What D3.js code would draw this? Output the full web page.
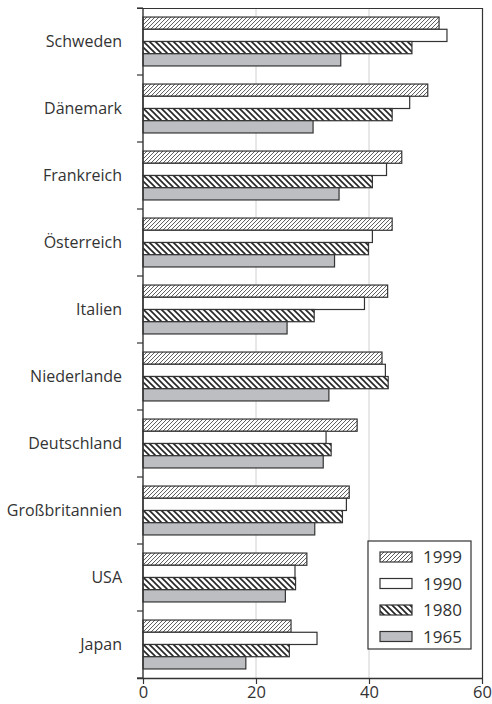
<!DOCTYPE html>
<html>
<head>
<meta charset="utf-8">
<script src="https://cdn.jsdelivr.net/npm/d3@7"></script>
<style>
  body { margin: 0; background: #fff; overflow: hidden; }
  text { font-family: "Open Sans", sans-serif; fill: #333; }
</style>
</head>
<body>
<div id="canvas" class="canvas" style="width:492px;height:704px;"></div>
<script>
// --- data
var countries = ["Schweden", "Dänemark", "Frankreich", "Österreich", "Italien",
                 "Niederlande", "Deutschland", "Großbritannien", "USA", "Japan"];
var years = ["1999", "1990", "1980", "1965"];
var v1999 = [52.4, 50.4, 45.8, 44.1, 43.3, 42.3, 37.9, 36.5, 29.0, 26.2];
var v1990 = [53.8, 47.2, 43.1, 40.6, 39.2, 42.9, 32.4, 36.0, 26.9, 30.8];
var v1980 = [47.6, 44.1, 40.6, 39.9, 30.3, 43.4, 33.3, 35.3, 27.0, 25.9];
var v1965 = [35.0, 30.1, 34.7, 33.9, 25.5, 32.9, 31.9, 30.4, 25.2, 18.2];
var xTicks = [0, 20, 40, 60];

var series = {"1999": v1999, "1990": v1990, "1980": v1980, "1965": v1965};

// --- margin convention
var M = {top: 8, right: 10, bottom: 26, left: 143};
var outerWidth = 492, outerHeight = 704;
var w = outerWidth - M.left - M.right,
    h = outerHeight - M.top - M.bottom;

var svg = d3.select('.canvas').append('svg')
  .attr('width', outerWidth)
  .attr('height', outerHeight)
  .style('display', 'block');

// --- patterns
var defs = svg.append('defs');
var p99 = defs.append('pattern')
  .attr('id', 'hatch99').attr('patternUnits', 'userSpaceOnUse')
  .attr('width', 4).attr('height', 4);
p99.append('rect').attr('width', 4).attr('height', 4).attr('fill', '#fff');
p99.append('path').attr('d', 'M-1,1 L1,-1 M0,4 L4,0 M3,5 L5,3')
  .attr('stroke', '#5a5a5a').attr('stroke-width', 1);

var p80 = defs.append('pattern')
  .attr('id', 'hatch80').attr('patternUnits', 'userSpaceOnUse')
  .attr('width', 6).attr('height', 6);
p80.append('rect').attr('width', 6).attr('height', 6).attr('fill', '#fff');
p80.append('path').attr('d', 'M-1,5 L1,7 M0,0 L6,6 M5,-1 L7,1')
  .attr('stroke', '#222').attr('stroke-width', 1.6);

var fills = {"1999": "url(#hatch99)", "1990": "#fff", "1980": "url(#hatch80)", "1965": "#bdbec2"};

var plot = svg.append('g')
  .attr('transform', 'translate(' + M.left + ',' + M.top + ')');

// --- scales
var x = d3.scaleLinear().domain([0, 60]).range([0, w]);
var y = d3.scaleBand().domain(countries).range([0, h]).paddingInner(0.27).paddingOuter(0.135);
var y2 = d3.scaleBand().domain(years).range([0, y.bandwidth()]);

// --- grid
plot.selectAll('.grid').data([20, 40]).enter().append('line')
  .attr('x1', function(d){ return x(d); }).attr('x2', function(d){ return x(d); })
  .attr('y1', 0).attr('y2', h)
  .attr('stroke', '#d0d0d0').attr('stroke-width', 1);

// --- frame (top and right)
plot.append('path')
  .attr('d', 'M' + (-6) + ',0.5 H' + (x(60) + 0.5) + ' V' + h)
  .attr('fill', 'none').attr('stroke', '#333').attr('stroke-width', 1.2);

// --- bars
var groups = plot.selectAll('.country').data(countries).enter().append('g')
  .attr('transform', function(d){ return 'translate(0,' + y(d) + ')'; });

years.forEach(function(yr){
  groups.append('rect')
    .attr('x', 0)
    .attr('y', y2(yr))
    .attr('width', function(d, i){ return x(series[yr][i]); })
    .attr('height', y2.bandwidth())
    .attr('fill', fills[yr])
    .attr('stroke', '#333')
    .attr('stroke-width', 1.2);
});

// --- y axis: line with ticks at category boundaries
var bounds = countries.map(function(d){ return y(d) - y.step() * y.paddingInner() / 2; });
bounds.push(h);
plot.append('line').attr('x1', 0).attr('x2', 0).attr('y1', 0).attr('y2', h)
  .attr('stroke', '#333').attr('stroke-width', 1.4);
plot.selectAll('.ytick').data(bounds).enter().append('line')
  .attr('x1', -6).attr('x2', 0)
  .attr('y1', function(d){ return d; }).attr('y2', function(d){ return d; })
  .attr('stroke', '#333').attr('stroke-width', 1.2);

plot.selectAll('.ylab').data(countries).enter().append('text')
  .attr('x', -21)
  .attr('y', function(d){ return y(d) + y.bandwidth() / 2; })
  .attr('dy', '0.35em')
  .attr('text-anchor', 'end')
  .attr('font-size', '16px')
  .text(function(d){ return d; });

// --- x axis
var xAxis = d3.axisBottom(x).tickValues(xTicks).tickSize(6).tickSizeOuter(0);
var gx = plot.append('g').attr('transform', 'translate(0,' + h + ')').call(xAxis);
gx.select('.domain').attr('stroke', '#333').attr('stroke-width', 1.4).attr('d', 'M-6,0.5H' + (x(60) + 0.5));
gx.selectAll('.tick line').attr('stroke', '#333').attr('stroke-width', 1.2);
gx.selectAll('.tick text')
  .attr('y', 20).attr('dy', 0)
  .attr('font-size', '16.5px').attr('font-family', '"Open Sans", sans-serif').attr('fill', '#333');

// --- legend
var lg = plot.append('g').attr('transform', 'translate(' + (368 - M.left) + ',' + (541 - M.top) + ')');
lg.append('rect').attr('width', 103).attr('height', 108)
  .attr('fill', '#fff').attr('stroke', '#333').attr('stroke-width', 1.2);
var li = lg.selectAll('.li').data(years).enter().append('g')
  .attr('transform', function(d, i){ return 'translate(12,' + (11 + i * 26.5) + ')'; });
li.append('rect').attr('width', 32).attr('height', 10)
  .attr('fill', function(d){ return fills[d]; })
  .attr('stroke', '#333').attr('stroke-width', 1.2);
li.append('text').attr('x', 43).attr('y', 5).attr('dy', '0.36em')
  .attr('font-size', '17px')
  .text(function(d){ return d; });
</script>
</body>
</html>
